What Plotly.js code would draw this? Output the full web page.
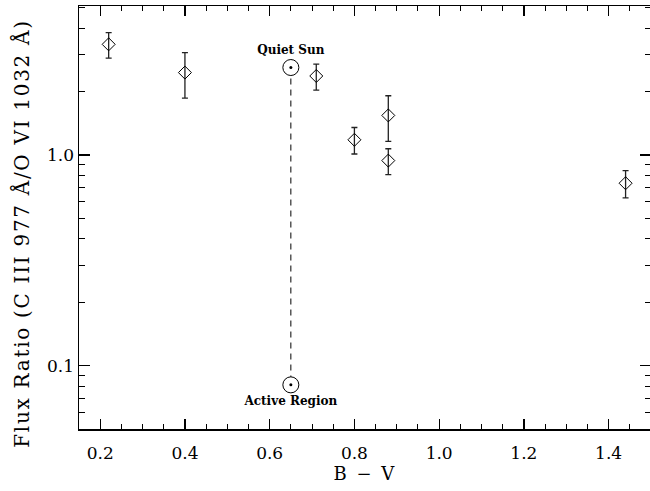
<!DOCTYPE html>
<html>
<head>
<meta charset="utf-8">
<script src="https://cdn.plot.ly/plotly-3.0.1.min.js"></script>
<style>
html,body{margin:0;padding:0;overflow:hidden;background:#fff;}
#chart{width:653px;height:491px;}
.xtitle{letter-spacing:2px;}
.ytitle{letter-spacing:1.7px;}
</style>
</head>
<body>
<div id="chart"></div>
<script>
// Star measurements: B - V colour, flux ratio and asymmetric errors
const starBV      = [0.22, 0.40, 0.71, 0.80, 0.88, 0.88, 1.44];
const starRatio   = [3.35, 2.46, 2.37, 1.18, 1.54, 0.94, 0.734];
const starErrHigh = [3.81, 3.06, 2.70, 1.35, 1.91, 1.07, 0.842];
const starErrLow  = [2.88, 1.86, 2.03, 1.01, 1.16, 0.806, 0.625];

// Solar reference points
const sunBV     = [0.65, 0.65];
const sunRatio  = [2.60, 0.081];
const sunLabels = ['Quiet Sun', 'Active Region'];

// Axis ticks
const xMajorTicks = [0.2, 0.4, 0.6, 0.8, 1.0, 1.2, 1.4];
const xMinorTicks = [0.15,0.25,0.3,0.35,0.45,0.5,0.55,0.65,0.7,0.75,0.85,0.9,0.95,1.05,1.1,1.15,1.25,1.3,1.35,1.45];
const yMajorTicks = [0.1, 1.0];
const yMajorText  = ['0.1', '1.0'];
const yMinorTicks = [0.06,0.07,0.08,0.09,0.2,0.3,0.4,0.5,0.6,0.7,0.8,0.9,2,3,4,5];

const errPlus  = starRatio.map((v,i)=>starErrHigh[i]-v);
const errMinus = starRatio.map((v,i)=>v-starErrLow[i]);

const FONT = 'DejaVu Serif';

const traces = [
  {
    x: sunBV, y: sunRatio, mode: 'lines', type: 'scatter',
    line: {color: '#000', width: 1, dash: '6px,5px'},
    hoverinfo: 'skip', showlegend: false
  },
  {
    x: starBV, y: starRatio, mode: 'markers', type: 'scatter',
    marker: {symbol: 'diamond-open', size: 10, color: '#000', line: {width: 1, color: '#000'}},
    error_y: {type: 'data', symmetric: false, array: errPlus, arrayminus: errMinus,
              color: '#222', thickness: 1.3, width: 3},
    showlegend: false
  },
  {
    x: sunBV, y: sunRatio, mode: 'markers+text', type: 'scatter',
    text: sunLabels, textposition: ['top center', 'bottom center'],
    textfont: {family: FONT, size: 12, color: '#000', weight: 'bold'},
    marker: {symbol: 'circle', size: 16, color: '#fff', line: {width: 1, color: '#000'}},
    showlegend: false
  },
  {
    x: sunBV, y: sunRatio, mode: 'markers', type: 'scatter',
    marker: {symbol: 'circle', size: 3, color: '#000'},
    hoverinfo: 'skip', showlegend: false
  }
];

const layout = {
  width: 653, height: 491,
  margin: {l: 79, r: 2, t: 6, b: 62},
  paper_bgcolor: '#fff', plot_bgcolor: '#fff',
  showlegend: false,
  font: {family: FONT, color: '#000'},
  xaxis: {
    range: [0.15, 1.5], showgrid: false, zeroline: false,
    showline: true, linecolor: '#000', linewidth: 1.5, mirror: 'allticks',
    ticks: 'inside', ticklen: 10, tickwidth: 1.3, tickcolor: '#000',
    tickmode: 'array', tickvals: xMajorTicks, tickformat: '.1f',
    tickfont: {family: FONT, size: 17, color: '#000'},
    ticklabelstandoff: 8,
    minor: {tickmode: 'array', tickvals: xMinorTicks, ticks: 'inside', ticklen: 5, tickwidth: 1, tickcolor: '#000', showgrid: false},
    title: {text: 'B \u2212 V', font: {family: FONT, size: 18, color: '#000'}, standoff: 4}
  },
  yaxis: {
    type: 'log', range: [Math.log10(0.05), 0.707], showgrid: false, zeroline: false,
    showline: true, linecolor: '#000', linewidth: 1.5, mirror: 'allticks',
    ticks: 'inside', ticklen: 11, tickwidth: 1.3, tickcolor: '#000',
    tickmode: 'array', tickvals: yMajorTicks, ticktext: yMajorText,
    tickfont: {family: FONT, size: 17, color: '#000'},
    ticklabelstandoff: 0,
    minor: {tickmode: 'array', tickvals: yMinorTicks, ticks: 'inside', ticklen: 6, tickwidth: 1, tickcolor: '#000', showgrid: false},
    title: {text: 'Flux Ratio (C III 977 \u00c5/O VI 1032 \u00c5)', font: {family: FONT, size: 20, color: '#000'}, standoff: 12}
  }
};

Plotly.newPlot('chart', traces, layout, {displayModeBar: false, staticPlot: true}).then(function(gd){
  // the reference's y title sits slightly below the plot-area centre
  var t = gd.querySelector('.ytitle');
  if (t) {
    var tr = t.getAttribute('transform') || '';
    t.setAttribute('transform', 'translate(0,16) ' + tr);
  }
});
</script>
</body>
</html>
